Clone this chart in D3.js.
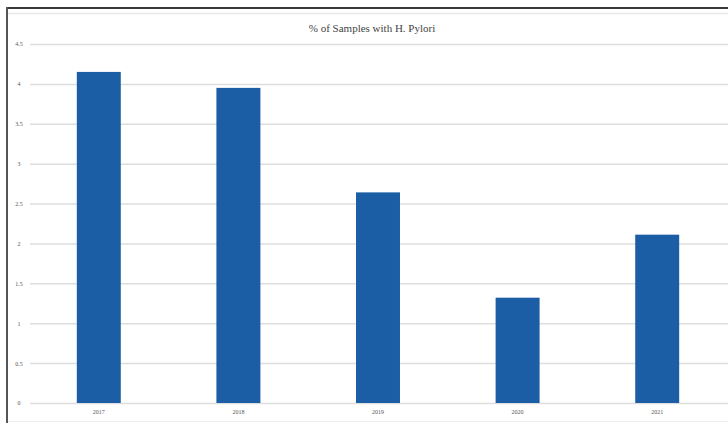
<!DOCTYPE html>
<html>
<head>
<meta charset="utf-8">
<script src="https://cdn.jsdelivr.net/npm/d3@7"></script>
<style>
  html, body { margin: 0; padding: 0; background: #fff; }
  svg { display: block; }
</style>
</head>
<body>
<svg id="chart" width="728" height="423"></svg>
<script>
// Share of samples testing positive for H. pylori, by year
const years = ["2017", "2018", "2019", "2020", "2021"];
const values = [4.15, 3.95, 2.64, 1.32, 2.11];
const yTicks = [0, 0.5, 1, 1.5, 2, 2.5, 3, 3.5, 4, 4.5];
const yTickLabels = ["0", "0.5", "1", "1.5", "2", "2.5", "3", "3.5", "4", "4.5"];
const title = "% of Samples with H. Pylori";

const svg = d3.select("#chart");
const W = 728, H = 423;
const plot = { left: 29, right: 727, top: 44, bottom: 403 };

// frame around the chart
svg.append("line").attr("x1", 7).attr("x2", W).attr("y1", 8).attr("y2", 8)
  .attr("stroke", "#3a3a3a").attr("stroke-width", 2);
svg.append("line").attr("x1", 8).attr("x2", W).attr("y1", 13.5).attr("y2", 13.5)
  .attr("stroke", "#e6e6e6").attr("stroke-width", 1.5);
svg.append("line").attr("x1", 7).attr("x2", 7).attr("y1", 7).attr("y2", H)
  .attr("stroke", "#555").attr("stroke-width", 2);
svg.append("line").attr("x1", 8).attr("x2", W).attr("y1", 421.5).attr("y2", 421.5)
  .attr("stroke", "#ececec").attr("stroke-width", 1);

const x = d3.scaleBand().domain(years).range([plot.left, plot.right])
  .paddingInner(0.685).paddingOuter(0.3425);
const y = d3.scaleLinear().domain([0, 4.5]).range([plot.bottom, plot.top]);

// horizontal gridlines with value labels
const yAxis = d3.axisLeft(y).tickValues(yTicks)
  .tickFormat((d, i) => yTickLabels[i])
  .tickSize(-(plot.right - plot.left + 1)).tickPadding(7);
const gy = svg.append("g").attr("transform", `translate(${plot.left + 1},0)`).call(yAxis);
gy.select(".domain").remove();
gy.selectAll(".tick line").attr("stroke", "#dedede").attr("stroke-width", 1.5);
gy.selectAll(".tick text")
  .attr("x", -11).attr("text-anchor", "middle")
  .attr("fill", "#555").style("font-family", "'Liberation Serif', serif").style("font-size", "6px");

// bars
svg.append("g").selectAll("rect").data(values).join("rect")
  .attr("x", (d, i) => x(years[i]))
  .attr("width", x.bandwidth())
  .attr("y", d => y(d))
  .attr("height", d => y(0) - y(d))
  .attr("fill", "#1b5ea6");

// category labels
const xAxis = d3.axisBottom(x).tickSize(0).tickPadding(7);
const gx = svg.append("g").attr("transform", `translate(0,${plot.bottom})`).call(xAxis);
gx.select(".domain").remove();
gx.selectAll(".tick text")
  .attr("fill", "#555").style("font-family", "'Liberation Serif', serif").style("font-size", "6px");

// title
svg.append("text").attr("x", 372).attr("y", 32).attr("text-anchor", "middle")
  .attr("fill", "#444").style("font-family", "'Liberation Serif', serif")
  .style("font-size", "11px").text(title);
</script>
</body>
</html>
